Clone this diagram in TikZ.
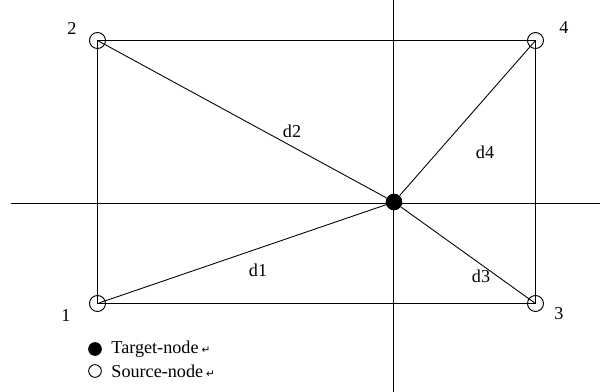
\documentclass[tikz,border=0pt]{standalone}
\usepackage{fontspec}
\setmainfont{Liberation Serif}
\newfontfamily\symfont{DejaVu Sans}
\usetikzlibrary{positioning}

\begin{document}
\begin{tikzpicture}[x=0.03cm, y=-0.03cm, font=\fontsize{15.5}{17}\selectfont,
    srcnode/.style={circle, draw, line width=0.8pt, fill=white, inner sep=0pt, minimum size=0.48cm},
    tgtnode/.style={circle, fill=black, inner sep=0pt, minimum size=0.5cm},
    keynode/.style={circle, draw, line width=0.8pt, inner sep=0pt, minimum size=0.38cm},
    edge/.style={line width=0.75pt}]
    \useasboundingbox (0,0) rectangle (605,392);

    % axes
    \coordinate (xl) at (11,203.5);
    \coordinate (xr) at (600,203.5);
    \coordinate (yt) at (393.5,0);
    \coordinate (yb) at (393.5,392);
    \draw[edge] (xl) -- (xr);
    \draw[edge] (yt) -- (yb);

    % source nodes and target
    \node[srcnode] (s1) at (97.5,303.5) {};
    \node[srcnode] (s2) at (97.5,40.5) {};
    \node[srcnode] (s3) at (535.5,303.5) {};
    \node[srcnode] (s4) at (535.5,40.5) {};
    \node[tgtnode] (t) at (394,202) {};

    % rectangle
    \draw[edge] (s1.center) -- (s2.center) -- (s4.center) -- (s3.center) -- (s1.center);

    % distances
    \draw[edge] (s1.center) -- (t);
    \draw[edge] (s2.center) -- (t);
    \draw[edge] (s3.center) -- (t);
    \draw[edge] (s4.center) -- (t);

    \node at (72,28) {2};
    \node at (564,28) {4};
    \node at (66,316) {1};
    \node at (559,314) {3};
    \node at (292,131) {d2};
    \node at (485,152) {d4};
    \node at (481,276) {d3};
    \node at (258,270) {d1};

    % legend
    \node[keynode, fill=black] (kt) at (95,349) {};
    \node[keynode] (ks) at (95,371) {};
    \node[right=7pt of kt, inner sep=1pt] {Target-node\,{\symfont\fontsize{9}{9}\selectfont ↵}};
    \node[right=7pt of ks, inner sep=1pt] {Source-node\,{\symfont\fontsize{9}{9}\selectfont ↵}};
\end{tikzpicture}
\end{document}
